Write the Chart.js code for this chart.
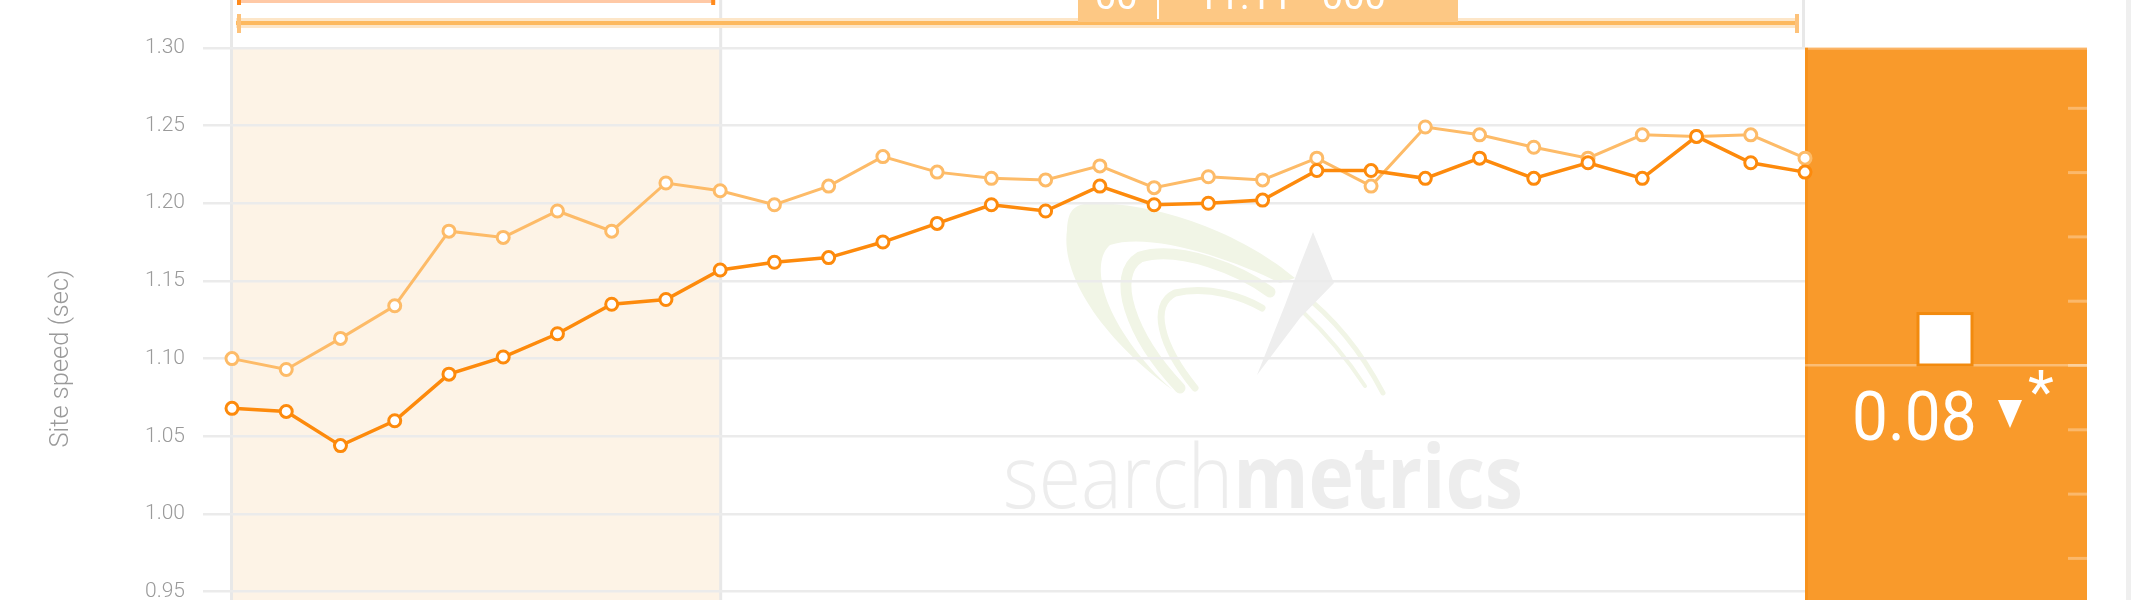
<!DOCTYPE html>
<html>
<head>
<meta charset="utf-8">
<script src="https://cdn.jsdelivr.net/npm/chart.js@4.4.0/dist/chart.umd.min.js"></script>
<style>
  html, body { margin: 0; padding: 0; background: #fff; overflow: hidden; }
  #wrap { position: relative; width: 2140px; height: 700px; }
</style>
</head>
<body>
<div id="wrap"><canvas id="speedChart"></canvas></div>
<script>
// weeks on the x axis (axis itself is hidden in the original)
const weeks = ['1', '2', '3', '4', '5', '6', '7', '8', '9', '10',
               '11', '12', '13', '14', '15', '16', '17', '18', '19', '20',
               '21', '22', '23', '24', '25', '26', '27', '28', '29', '30'];

// site speed in seconds
const domainSpeed = [1.068, 1.066, 1.044, 1.060, 1.090, 1.101, 1.116, 1.135, 1.138, 1.157,
                     1.162, 1.165, 1.175, 1.187, 1.199, 1.195, 1.211, 1.199, 1.200, 1.202,
                     1.221, 1.221, 1.216, 1.229, 1.216, 1.226, 1.216, 1.243, 1.226, 1.220];
const compareSpeed = [1.100, 1.093, 1.113, 1.134, 1.182, 1.178, 1.195, 1.182, 1.213, 1.208,
                      1.199, 1.211, 1.230, 1.220, 1.216, 1.215, 1.224, 1.210, 1.217, 1.215,
                      1.229, 1.211, 1.249, 1.244, 1.236, 1.229, 1.244, 1.243, 1.244, 1.229];

const yTicks = [0.90, 0.95, 1.00, 1.05, 1.10, 1.15, 1.20, 1.25, 1.30];

// highlighted period (first ten weeks) and the change shown in the side panel
const bandFrom = 0;
const bandTo = 9;
const changeValue = 0.08;
const panelStep = 0.1;

const FONT = 'Roboto, "Noto Sans", sans-serif';

function drawLogo(ctx) {
  ctx.save();
  ctx.fillStyle = '#f1f5e6';
  ctx.strokeStyle = '#f1f5e6';
  ctx.lineCap = 'round';
  ctx.beginPath();
  ctx.moveTo(1173, 390);
  ctx.bezierCurveTo(1110, 345, 1060, 280, 1067, 230);
  ctx.bezierCurveTo(1068, 212, 1072, 205, 1090, 203);
  ctx.bezierCurveTo(1170, 203, 1250, 240, 1295, 278);
  ctx.lineTo(1280, 283);
  ctx.bezierCurveTo(1230, 258, 1150, 232, 1110, 245);
  ctx.bezierCurveTo(1090, 262, 1100, 320, 1167, 385);
  ctx.closePath();
  ctx.fill();

  ctx.lineWidth = 11;
  ctx.beginPath();
  ctx.moveTo(1180, 388);
  ctx.bezierCurveTo(1130, 335, 1110, 275, 1140, 257);
  ctx.bezierCurveTo(1180, 245, 1240, 270, 1270, 292);
  ctx.stroke();

  ctx.lineWidth = 7;
  ctx.beginPath();
  ctx.moveTo(1195, 388);
  ctx.bezierCurveTo(1160, 345, 1150, 305, 1175, 293);
  ctx.bezierCurveTo(1210, 285, 1245, 298, 1262, 308);
  ctx.stroke();

  ctx.lineWidth = 5;
  ctx.beginPath();
  ctx.moveTo(1300, 292);
  ctx.quadraticCurveTo(1350, 330, 1383, 393);
  ctx.stroke();
  ctx.lineWidth = 4;
  ctx.beginPath();
  ctx.moveTo(1303, 312);
  ctx.quadraticCurveTo(1338, 345, 1365, 386);
  ctx.stroke();

  ctx.fillStyle = '#eeeeee';
  ctx.beginPath();
  ctx.moveTo(1313, 232);
  ctx.lineTo(1334, 283);
  ctx.lineTo(1300, 318);
  ctx.lineTo(1257, 375);
  ctx.lineTo(1285, 305);
  ctx.lineTo(1300, 265);
  ctx.closePath();
  ctx.fill();
  ctx.restore();
}

const decor = {
  id: 'decor',
  beforeDraw(chart) {
    const { ctx, chartArea: a, scales: { x } } = chart;
    const H = chart.height;
    const x0 = x.getPixelForValue(bandFrom);
    const x1 = x.getPixelForValue(bandTo);
    ctx.save();

    // shaded period
    ctx.fillStyle = '#fdf3e6';
    ctx.fillRect(x0, a.top, x1 - x0, H - a.top);

    drawLogo(ctx);

    // watermark
    ctx.fillStyle = '#ededed';
    ctx.textBaseline = 'alphabetic';
    ctx.font = '300 88px "Open Sans", sans-serif';
    const w1 = ctx.measureText('search').width;
    ctx.font = '700 88px "Open Sans", sans-serif';
    const w2 = ctx.measureText('metrics').width;
    const sx = 520 / (w1 + w2);
    ctx.save();
    ctx.translate(1003, 508);
    ctx.scale(sx, 1);
    ctx.font = '300 88px "Open Sans", sans-serif';
    ctx.fillText('search', 0, 0);
    ctx.font = '700 88px "Open Sans", sans-serif';
    ctx.fillText('metrics', w1, 0);
    ctx.restore();

    // vertical separators
    ctx.fillStyle = '#e8e8e8';
    ctx.fillRect(x0 - 2, 0, 3, H);
    ctx.fillRect(x1 - 1, 0, 3, H);
    ctx.fillRect(a.right - 3, 0, 3, a.top);

    // period bracket (cut at the top)
    ctx.fillStyle = '#ffc9a6';
    ctx.fillRect(x0 + 5, 0, x1 - x0 - 10, 3);
    ctx.fillStyle = '#ff8a1c';
    ctx.fillRect(x0 + 5, 0, 4, 5);
    ctx.fillRect(x1 - 9, 0, 4, 5);

    // full-range arrow
    ctx.fillStyle = '#fde6c8';
    ctx.fillRect(x0 + 4, 18, a.right - x0 - 10, 10);
    ctx.fillStyle = '#fdb95f';
    ctx.fillRect(x0 + 4, 21, a.right - x0 - 10, 4);
    ctx.fillStyle = '#fdc27a';
    ctx.fillRect(x0 + 5, 14, 4, 19);
    ctx.fillRect(a.right - 10, 14, 4, 19);

    // header box (cut at the top)
    ctx.fillStyle = '#fdc884';
    ctx.fillRect(1078, 0, 380, 22);
    ctx.fillStyle = '#ffffff';
    ctx.fillRect(1157, 0, 2, 19);
    ctx.font = '38px ' + FONT;
    ctx.textAlign = 'left';
    ctx.fillText('00', 1095, 9);
    ctx.fillText('11.11 - 000', 1197, 9);

    // page border on the right
    ctx.fillStyle = '#efefef';
    ctx.fillRect(2126, 0, 5, H);
    ctx.restore();
  },
  beforeDatasetsDraw(chart) {
    const { ctx, chartArea: a } = chart;
    const H = chart.height;
    const left = a.right, right = 2087, top = a.top;
    const mid = 365, tick = 64.3;
    ctx.save();
    ctx.fillStyle = '#f99a2b';
    ctx.fillRect(left, top, right - left, H - top);
    ctx.fillStyle = '#fbb466';
    ctx.fillRect(left, top, right - left, 2);
    ctx.fillStyle = '#f7921c';
    ctx.fillRect(left, top, 3, H - top);

    ctx.fillStyle = 'rgba(255,255,255,0.3)';
    for (let k = -4; k <= 4; k++) {
      ctx.fillRect(right - 19, mid + k * tick - 1, 19, 3);
    }
    ctx.fillStyle = 'rgba(255,255,255,0.35)';
    ctx.fillRect(left, mid - 1, right - left, 2.5);

    // change bar
    const h = changeValue / panelStep * tick;
    ctx.fillStyle = '#ffffff';
    ctx.strokeStyle = '#f28a0e';
    ctx.lineWidth = 3;
    ctx.fillRect(1918, mid - h, 54, h);
    ctx.strokeRect(1918, mid - h, 54, h);

    ctx.fillStyle = '#ffffff';
    ctx.font = '68px ' + FONT;
    ctx.textBaseline = 'alphabetic';
    ctx.textAlign = 'left';
    ctx.save();
    ctx.translate(1852, 440);
    ctx.scale(0.94, 1);
    ctx.fillText(changeValue.toFixed(2), 0, 0);
    ctx.restore();

    ctx.beginPath();
    ctx.moveTo(1998, 400);
    ctx.lineTo(2022, 400);
    ctx.lineTo(2010, 428);
    ctx.closePath();
    ctx.fill();

    ctx.font = '60px ' + FONT;
    ctx.fillText('*', 2028, 412);
    ctx.restore();
  }
};

new Chart(document.getElementById('speedChart'), {
  type: 'line',
  data: {
    labels: weeks,
    datasets: [
      {
        label: 'Domain',
        data: domainSpeed,
        borderColor: '#fd8a0c',
        borderWidth: 3.5,
        pointRadius: 6,
        pointBorderWidth: 3,
        pointBackgroundColor: '#ffffff',
        pointBorderColor: '#fd8a0c',
        tension: 0
      },
      {
        label: 'Comparison',
        data: compareSpeed,
        borderColor: '#fdbb68',
        borderWidth: 3,
        pointRadius: 6,
        pointBorderWidth: 3,
        pointBackgroundColor: '#ffffff',
        pointBorderColor: '#fdbb68',
        tension: 0
      }
    ]
  },
  options: {
    responsive: true,
    maintainAspectRatio: false,
    animation: false,
    layout: { padding: { left: 0, top: 47.8, right: 335, bottom: 18.6 } },
    plugins: { legend: { display: false }, tooltip: { enabled: false } },
    scales: {
      x: { display: false, offset: false },
      y: {
        min: 0.90,
        max: 1.30,
        afterBuildTicks: s => { s.ticks = yTicks.map(v => ({ value: v })); },
        afterFit: s => { s.width = 232; },
        border: { display: false },
        grid: { color: '#ebebeb', lineWidth: 2.5, tickLength: 29, drawTicks: true },
        ticks: {
          padding: 18,
          color: '#9a9a9a',
          font: { family: FONT, size: 21, weight: '300' },
          callback: v => Number(v).toFixed(2)
        },
        title: {
          display: true,
          text: 'Site speed (sec)',
          color: '#9a9a9a',
          font: { family: FONT, size: 25.5, weight: '300' },
          padding: { top: 46.7, bottom: 0 }
        }
      }
    }
  },
  plugins: [decor]
});
</script>
</body>
</html>
